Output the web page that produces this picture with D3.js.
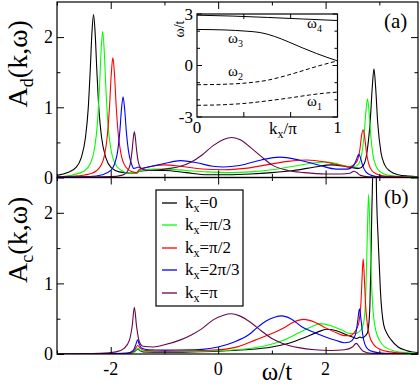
<!DOCTYPE html>
<html>
<head>
<meta charset="utf-8">
<script src="https://cdn.jsdelivr.net/npm/d3@7"></script>
<style>
body { margin: 0; background: #fff; }
svg text { fill: #000; }
</style>
</head>
<body>
<div id="chart"></div>
<script>
/* global d3 */

// k_x values of the five curves
var kLabels = ["0", "π/3", "π/2", "2π/3", "π"];

// panel (a) : A_d(k,w) as [w/t, A]
var ad_k0 = [[-3.0,0.03],[-2.8,0.07],[-2.65,0.14],[-2.55,0.28],[-2.47,0.57],[-2.42,0.97],[-2.38,1.55],[-2.35,2.06],[-2.32,2.32],[-2.29,2.06],[-2.26,1.55],[-2.22,0.97],[-2.17,0.57],[-2.09,0.28],[-1.99,0.14],[-1.84,0.08],[-1.6,0.06],[-1.52,0.06],[-1.47,0.09],[-1.3,0.1],[-1.0,0.1],[-0.6,0.07],[-0.2,0.04],[0.2,0.04],[0.6,0.05],[1.0,0.07],[1.4,0.1],[1.8,0.15],[2.1,0.18],[2.35,0.16],[2.5,0.14],[2.62,0.13],[2.7,0.17],[2.77,0.36],[2.83,0.8],[2.87,1.3],[2.9,1.55],[2.93,1.3],[2.97,0.78],[3.03,0.36],[3.1,0.18],[3.2,0.09],[3.35,0.04],[3.55,0.02],[3.72,0.01]];
var ad_k1 = [[-3.0,0.01],[-2.7,0.04],[-2.5,0.09],[-2.38,0.2],[-2.3,0.42],[-2.25,0.75],[-2.21,1.27],[-2.18,1.79],[-2.15,2.08],[-2.12,1.79],[-2.09,1.27],[-2.05,0.75],[-2.0,0.42],[-1.92,0.2],[-1.8,0.1],[-1.65,0.06],[-1.52,0.06],[-1.47,0.09],[-1.2,0.12],[-1.0,0.12],[-0.6,0.1],[-0.2,0.08],[0.2,0.07],[0.6,0.08],[1.0,0.11],[1.4,0.16],[1.8,0.21],[2.0,0.22],[2.2,0.2],[2.4,0.16],[2.55,0.16],[2.62,0.2],[2.68,0.37],[2.72,0.63],[2.75,0.94],[2.78,1.12],[2.81,0.93],[2.84,0.6],[2.88,0.33],[2.94,0.16],[3.02,0.08],[3.15,0.035],[3.4,0.015],[3.72,0.005]];
var ad_k2 = [[-3.0,0.01],[-2.6,0.025],[-2.35,0.06],[-2.2,0.15],[-2.11,0.34],[-2.06,0.62],[-2.02,1.04],[-1.99,1.47],[-1.96,1.71],[-1.93,1.47],[-1.9,1.04],[-1.86,0.62],[-1.81,0.34],[-1.72,0.15],[-1.6,0.08],[-1.52,0.07],[-1.47,0.11],[-1.3,0.15],[-1.0,0.18],[-0.7,0.16],[-0.3,0.12],[0.1,0.11],[0.5,0.13],[0.9,0.18],[1.3,0.23],[1.65,0.25],[2.0,0.22],[2.3,0.17],[2.45,0.15],[2.55,0.2],[2.6,0.26],[2.64,0.41],[2.67,0.6],[2.7,0.68],[2.73,0.56],[2.76,0.36],[2.8,0.2],[2.86,0.1],[2.95,0.05],[3.1,0.02],[3.4,0.01],[3.72,0.0]];
var ad_k3 = [[-3.0,0.01],[-2.4,0.015],[-2.15,0.04],[-2.0,0.1],[-1.92,0.21],[-1.87,0.38],[-1.83,0.66],[-1.8,0.97],[-1.77,1.15],[-1.74,0.97],[-1.71,0.66],[-1.67,0.38],[-1.62,0.21],[-1.57,0.13],[-1.52,0.14],[-1.49,0.15],[-1.44,0.13],[-1.3,0.15],[-1.0,0.2],[-0.7,0.24],[-0.4,0.21],[-0.1,0.16],[0.1,0.15],[0.4,0.17],[0.8,0.25],[1.15,0.29],[1.5,0.25],[1.9,0.17],[2.2,0.12],[2.4,0.12],[2.5,0.15],[2.56,0.23],[2.59,0.29],[2.62,0.33],[2.65,0.28],[2.69,0.17],[2.75,0.08],[2.85,0.03],[3.0,0.01],[3.72,0.0]];
var ad_k4 = [[-3.0,0.005],[-2.3,0.01],[-2.0,0.012],[-1.8,0.03],[-1.7,0.075],[-1.64,0.18],[-1.6,0.4],[-1.58,0.56],[-1.56,0.65],[-1.54,0.56],[-1.52,0.4],[-1.48,0.2],[-1.42,0.12],[-1.3,0.1],[-1.1,0.11],[-0.9,0.13],[-0.7,0.16],[-0.5,0.22],[-0.3,0.32],[-0.1,0.45],[0.1,0.54],[0.25,0.57],[0.4,0.54],[0.6,0.43],[0.8,0.3],[1.0,0.18],[1.3,0.1],[1.6,0.07],[2.0,0.05],[2.3,0.05],[2.45,0.06],[2.53,0.09],[2.58,0.07],[2.65,0.03],[2.8,0.01],[3.72,0.0]];

// panel (b) : A_c(k,w)
var ac_k0 = [[-3.0,0],[-1.8,0.005],[-1.6,0.02],[-1.53,0.05],[-1.5,0.07],[-1.46,0.05],[-1.4,0.03],[-1.0,0.025],[-0.5,0.03],[0.0,0.04],[0.5,0.06],[1.0,0.1],[1.3,0.15],[1.6,0.23],[1.85,0.31],[2.02,0.35],[2.2,0.33],[2.4,0.27],[2.5,0.24],[2.58,0.22],[2.64,0.24],[2.68,0.23],[2.73,0.25],[2.78,0.3],[2.82,0.6],[2.84,1.2],[2.86,2.0],[2.89,3.0],[2.92,3.6],[2.95,2.2],[2.98,1.6],[3.02,0.9],[3.08,0.42],[3.15,0.28],[3.22,0.2],[3.35,0.1],[3.5,0.05],[3.72,0.02]];
var ac_k1 = [[-3.0,0],[-1.7,0.005],[-1.55,0.03],[-1.5,0.08],[-1.45,0.05],[-1.35,0.04],[-1.0,0.035],[-0.5,0.035],[0.0,0.045],[0.5,0.07],[0.9,0.12],[1.2,0.19],[1.5,0.3],[1.75,0.39],[1.9,0.43],[2.1,0.4],[2.3,0.34],[2.45,0.29],[2.55,0.29],[2.63,0.32],[2.68,0.37],[2.72,0.5],[2.75,0.9],[2.78,1.8],[2.8,2.26],[2.82,1.9],[2.85,1.1],[2.88,0.65],[2.93,0.35],[3.0,0.2],[3.1,0.1],[3.3,0.04],[3.5,0.02],[3.72,0.01]];
var ac_k2 = [[-3.0,0],[-1.65,0.01],[-1.55,0.06],[-1.5,0.12],[-1.45,0.08],[-1.35,0.05],[-1.0,0.04],[-0.5,0.045],[0.0,0.06],[0.3,0.09],[0.7,0.2],[1.0,0.29],[1.2,0.36],[1.4,0.45],[1.59,0.49],[1.8,0.45],[2.0,0.37],[2.2,0.3],[2.35,0.26],[2.45,0.26],[2.53,0.3],[2.58,0.36],[2.62,0.45],[2.66,0.75],[2.68,1.1],[2.7,1.35],[2.72,1.1],[2.74,0.75],[2.78,0.4],[2.82,0.25],[2.9,0.13],[3.0,0.07],[3.2,0.03],[3.5,0.01],[3.72,0]];
var ac_k3 = [[-3.0,0],[-1.7,0.01],[-1.58,0.05],[-1.53,0.14],[-1.5,0.2],[-1.47,0.14],[-1.42,0.08],[-1.3,0.06],[-1.0,0.055],[-0.5,0.06],[-0.3,0.065],[0.0,0.1],[0.3,0.17],[0.6,0.29],[0.72,0.37],[0.9,0.47],[1.05,0.52],[1.18,0.54],[1.35,0.5],[1.55,0.39],[1.8,0.3],[2.0,0.24],[2.2,0.19],[2.35,0.16],[2.45,0.17],[2.52,0.22],[2.57,0.32],[2.6,0.48],[2.63,0.64],[2.66,0.48],[2.69,0.28],[2.73,0.14],[2.8,0.06],[2.9,0.03],[3.1,0.01],[3.72,0]];
var ac_k4 = [[-3.0,0],[-2.2,0.01],[-1.9,0.03],[-1.75,0.08],[-1.65,0.2],[-1.6,0.4],[-1.56,0.66],[-1.52,0.4],[-1.47,0.18],[-1.4,0.11],[-1.2,0.1],[-1.0,0.13],[-0.7,0.2],[-0.5,0.27],[-0.3,0.36],[-0.1,0.48],[0.1,0.55],[0.24,0.57],[0.4,0.54],[0.6,0.45],[0.8,0.33],[1.0,0.22],[1.2,0.15],[1.5,0.09],[1.8,0.06],[2.1,0.05],[2.35,0.06],[2.5,0.1],[2.57,0.15],[2.63,0.1],[2.7,0.04],[2.85,0.01],[3.72,0]];

// inset : bands w_i(k_x/pi)
var omega1 = [[0,-2.32],[0.2,-2.28],[0.35,-2.2],[0.5,-2.06],[0.65,-1.9],[0.8,-1.72],[0.9,-1.62],[1,-1.55]];
var omega2 = [[0,-1.12],[0.2,-1.09],[0.35,-1.02],[0.5,-0.86],[0.62,-0.62],[0.73,-0.36],[0.85,-0.06],[1,0.27]];
var omega3 = [[0,2.1],[0.2,2.07],[0.35,2.0],[0.45,1.92],[0.55,1.7],[0.65,1.38],[0.75,1.03],[0.85,0.7],[1,0.27]];
var omega4 = [[0,2.93],[0.25,2.88],[0.5,2.8],[0.75,2.71],[1,2.62]];

var xMajor = [-2, 0, 2];
var xMinor = [-3, -1, 1, 3];
var yMajor = [0, 1, 2];
var yMinor = [0.5, 1.5];
var insetYTicks = [-3, -2, -1, 0, 1, 2, 3];
var insetYLabels = [-3, 0, 3];
var insetXTicks = [1 / 3, 2 / 3];

var colors = ["#000000", "#00ff00", "#ff0000", "#0000ff", "#670748"];
var serif = "Liberation Serif, Times New Roman, Times, DejaVu Serif, serif";

var width = 420;
var height = 386;

const svg = d3.select("#chart")
    .append("svg")
    .attr("width", width)
    .attr("height", height)
    .attr("font-family", serif);

var x = d3.scaleLinear().domain([-3, 3.72]).range([57, 418]);

var panels = [
    {name: "a", series: [ad_k0, ad_k1, ad_k2, ad_k3, ad_k4], top: 2, bottom: 177.5, sub: "d", tag: "(a)"},
    {name: "b", series: [ac_k0, ac_k1, ac_k2, ac_k3, ac_k4], top: 177.5, bottom: 354, sub: "c", tag: "(b)"}
];

function drawPanel(p) {
    var y = d3.scaleLinear().domain([0, 2.5]).range([p.bottom, p.top]);
    var g = svg.append("g").attr("class", "panel-" + p.name);

    svg.append("clipPath")
        .attr("id", "clip-" + p.name)
        .append("rect")
        .attr("x", x.range()[0])
        .attr("y", p.top)
        .attr("width", x.range()[1] - x.range()[0])
        .attr("height", p.bottom - p.top);

    var line = d3.line()
        .x(d => x(d[0]))
        .y(d => y(d[1]))
        .curve(d3.curveMonotoneX);

    g.append("g")
        .attr("clip-path", "url(#clip-" + p.name + ")")
        .selectAll("path")
        .data(p.series)
        .enter().append("path")
        .attr("d", line)
        .attr("fill", "none")
        .attr("stroke", (d, i) => colors[i])
        .attr("stroke-width", 1.1);

    // ticks on all four sides, pointing inward
    var axes = [
        [() => d3.axisBottom(x), "translate(0," + p.bottom + ")", xMajor, xMinor],
        [() => d3.axisTop(x), "translate(0," + p.top + ")", xMajor, xMinor],
        [() => d3.axisLeft(y), "translate(" + x.range()[0] + ",0)", yMajor, yMinor],
        [() => d3.axisRight(y), "translate(" + x.range()[1] + ",0)", yMajor, yMinor]
    ];
    axes.forEach(function (a) {
        [[a[2], 7], [a[3], 3.5]].forEach(function (t) {
            var ax = g.append("g")
                .attr("transform", a[1])
                .call(a[0]().tickValues(t[0]).tickSize(-t[1]).tickFormat(""));
            ax.select(".domain").remove();
        });
    });

    // tick labels on the left
    g.selectAll(".ylab")
        .data(yMajor)
        .enter().append("text")
        .attr("x", 53)
        .attr("y", d => y(d))
        .attr("dy", "0.35em")
        .attr("text-anchor", "end")
        .style("font-size", "18px")
        .text(d => d);

    g.append("rect")
        .attr("x", x.range()[0])
        .attr("y", p.top)
        .attr("width", x.range()[1] - x.range()[0])
        .attr("height", p.bottom - p.top)
        .attr("fill", "none")
        .attr("stroke", "#000")
        .attr("stroke-width", 1.2);

    var lab = g.append("text")
        .attr("transform", "translate(27," + ((p.top + p.bottom) / 2 - 26) + ") rotate(-90)")
        .attr("text-anchor", "middle")
        .style("font-size", "28px");
    lab.append("tspan").text("A");
    lab.append("tspan").attr("dy", 6).style("font-size", "18px").text(p.sub);
    lab.append("tspan").attr("dy", -6).text("(k,ω)");

    g.append("text")
        .attr("x", 384)
        .attr("y", p.top + 26)
        .style("font-size", "21px")
        .text(p.tag);

    return y;
}

panels.forEach(drawPanel);

// x tick labels and title under panel (b)
svg.selectAll(".xlab")
    .data(xMajor)
    .enter().append("text")
    .attr("x", d => x(d))
    .attr("y", 375)
    .attr("text-anchor", "middle")
    .style("font-size", "18px")
    .text(d => d);

svg.append("text")
    .attr("x", 277)
    .attr("y", 380)
    .attr("text-anchor", "middle")
    .style("font-size", "25px")
    .text("ω/t");

// legend in panel (b)
var legend = svg.append("g");
legend.append("rect")
    .attr("x", 156).attr("y", 190)
    .attr("width", 87).attr("height", 116)
    .attr("fill", "#fff")
    .attr("stroke", "#000")
    .attr("stroke-width", 1.2);

var rows = legend.selectAll(".row")
    .data(kLabels)
    .enter().append("g")
    .attr("transform", (d, i) => "translate(0," + Math.round(203 + i * 22.4) + ")");

rows.append("line")
    .attr("x1", 162).attr("x2", 177)
    .attr("stroke", (d, i) => colors[i])
    .attr("stroke-width", 1.3);

var rowText = rows.append("text")
    .attr("x", 185)
    .attr("y", 5)
    .style("font-size", "17px");
rowText.append("tspan").text("k");
rowText.append("tspan").attr("dy", 4).style("font-size", "12px").text("x");
rowText.append("tspan").attr("dy", -4).text(d => "=" + d);

// inset with the bands
var ix = d3.scaleLinear().domain([0, 1]).range([197, 337.5]);
var iy = d3.scaleLinear().domain([-3, 3]).range([117, 14]);
var inset = svg.append("g");

inset.append("rect")
    .attr("x", 197).attr("y", 14)
    .attr("width", 140.5).attr("height", 103)
    .attr("fill", "#fff");

var bandLine = d3.line()
    .x(d => ix(d[0]))
    .y(d => iy(d[1]))
    .curve(d3.curveMonotoneX);

inset.selectAll(".band")
    .data([omega1, omega2, omega3, omega4])
    .enter().append("path")
    .attr("d", bandLine)
    .attr("fill", "none")
    .attr("stroke", "#000")
    .attr("stroke-width", 1)
    .attr("stroke-dasharray", (d, i) => i < 2 ? "4,2.5" : null);

insetYTicks.forEach(function (v) {
    var len = insetYLabels.indexOf(v) >= 0 ? 5 : 3;
    inset.append("line").attr("x1", 197).attr("x2", 197 + len)
        .attr("y1", iy(v)).attr("y2", iy(v)).attr("stroke", "#000");
    inset.append("line").attr("x1", 337.5).attr("x2", 337.5 - len)
        .attr("y1", iy(v)).attr("y2", iy(v)).attr("stroke", "#000");
});
insetXTicks.forEach(function (v) {
    inset.append("line").attr("x1", ix(v)).attr("x2", ix(v))
        .attr("y1", 117).attr("y2", 112).attr("stroke", "#000");
    inset.append("line").attr("x1", ix(v)).attr("x2", ix(v))
        .attr("y1", 14).attr("y2", 19).attr("stroke", "#000");
});

inset.append("rect")
    .attr("x", 197).attr("y", 14)
    .attr("width", 140.5).attr("height", 103)
    .attr("fill", "none")
    .attr("stroke", "#000")
    .attr("stroke-width", 1.2);

inset.selectAll(".iylab")
    .data(insetYLabels)
    .enter().append("text")
    .attr("x", 193)
    .attr("y", d => iy(d))
    .attr("dy", "0.35em")
    .attr("text-anchor", "end")
    .style("font-size", "17px")
    .text(d => d);

inset.selectAll(".ixlab")
    .data([0, 1])
    .enter().append("text")
    .attr("x", d => ix(d))
    .attr("y", 133)
    .attr("text-anchor", "middle")
    .style("font-size", "17px")
    .text(d => d);

var kx = inset.append("text")
    .attr("x", 283)
    .attr("y", 134)
    .attr("text-anchor", "middle")
    .style("font-size", "17px");
kx.append("tspan").text("k");
kx.append("tspan").attr("dy", 4).style("font-size", "12px").text("x");
kx.append("tspan").attr("dy", -4).text("/π");

inset.append("text")
    .attr("transform", "translate(184,29) rotate(-90)")
    .attr("text-anchor", "middle")
    .style("font-size", "14px")
    .text("ω/t");

var bandNames = [["1", 307, 106], ["2", 228, 76], ["3", 228, 43], ["4", 307, 28]];
bandNames.forEach(function (b) {
    var t = inset.append("text")
        .attr("x", b[1]).attr("y", b[2])
        .style("font-size", "15px");
    t.append("tspan").text("ω");
    t.append("tspan").attr("dy", 4).style("font-size", "10px").text(b[0]);
});
</script>
</body>
</html>
